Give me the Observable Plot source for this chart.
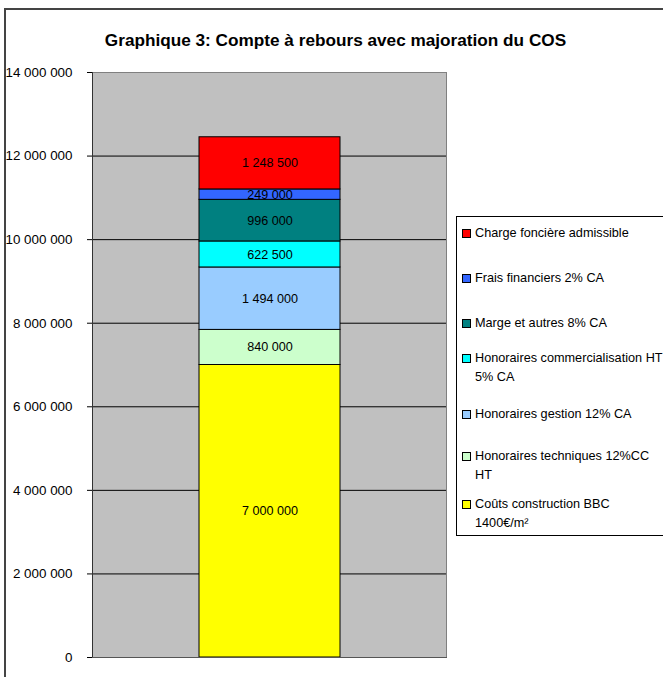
<!DOCTYPE html>
<html><head><meta charset="utf-8">
<script src="https://cdn.jsdelivr.net/npm/d3@7"></script>
<script src="https://cdn.jsdelivr.net/npm/@observablehq/plot@0.6"></script>
<style>
body{margin:0;background:#fff;font-family:"Liberation Sans",Arial,sans-serif;}
#wrap{position:relative;width:663px;height:677px;overflow:hidden;background:#fff;}
#border{position:absolute;left:4px;top:8px;width:720px;height:720px;border:2px solid #444;box-sizing:border-box;}
#title{position:absolute;left:85px;width:501px;top:29px;text-align:center;font-weight:bold;font-size:17.2px;line-height:22px;color:#000;white-space:nowrap;}
#chart{position:absolute;left:0;top:0;}
#legend{position:absolute;left:456px;top:216px;width:240px;height:320px;border:1px solid #000;box-sizing:border-box;background:#fff;}
.entry{position:absolute;left:0;font-size:12.7px;line-height:18.5px;color:#000;white-space:nowrap;}
.sw{position:absolute;left:5px;top:5px;width:7px;height:7px;border:1px solid #000;}
.lab{position:absolute;left:18px;top:0;}
</style></head>
<body>
<div id="wrap">
  <div id="border"></div>
  <div id="chart"></div>
  <div id="title">Graphique 3: Compte à rebours avec majoration du COS</div>
  <div id="legend"></div>
</div>
<script>
// ---- data (bottom to top of the stack)
const category = "Projet";
const series = [
  "Coûts construction BBC 1400€/m²",
  "Honoraires techniques 12%CC HT",
  "Honoraires gestion 12% CA",
  "Honoraires commercialisation HT 5% CA",
  "Marge et autres 8% CA",
  "Frais financiers 2% CA",
  "Charge foncière admissible"
];
const legendLines = [
  ["Coûts construction BBC", "1400€/m²"],
  ["Honoraires techniques 12%CC", "HT"],
  ["Honoraires gestion 12% CA"],
  ["Honoraires commercialisation HT", "5% CA"],
  ["Marge et autres 8% CA"],
  ["Frais financiers 2% CA"],
  ["Charge foncière admissible"]
];
const values = [7000000, 840000, 1494000, 622500, 996000, 249000, 1248500];
const colors = ["#ffff00", "#ccffcc", "#99ccff", "#00ffff", "#008080", "#3366ff", "#ff0000"];
const yTicks = [0, 2000000, 4000000, 6000000, 8000000, 10000000, 12000000, 14000000];

// ---- layout (legend first-line centres, bottom entry first)
const legendCenters = [503, 455, 413, 357, 322, 277, 232];

const data = series.map((s, i) => ({cat: category, series: s, value: values[i]}));
const fmt = v => d3.format(",")(v).replace(/,/g, " ");

const chart = Plot.plot({
  width: 663, height: 677,
  marginLeft: 92, marginRight: 217, marginTop: 72, marginBottom: 20,
  style: {fontFamily: "'Liberation Sans', Arial, sans-serif", fontSize: "12px", background: "transparent", color: "#000"},
  x: {domain: [category], padding: 0.43, axis: null},
  y: {domain: [0, 14000000], axis: null},
  color: {domain: series, range: colors},
  marks: [
    Plot.frame({fill: "#c0c0c0", stroke: "#808080"}),
    Plot.ruleY(yTicks.filter(t => t > 0 && t < 14000000), {stroke: "#000", strokeWidth: 1}),
    Plot.barY(data, {x: "cat", y: "value", fill: "series", stroke: "#000", strokeWidth: 1}),
    Plot.text(data, Plot.stackY({x: "cat", y: "value", text: d => fmt(d.value), fontSize: 12.6, fill: "#000"})),
    Plot.axisY({ticks: yTicks, tickFormat: fmt, tickSize: 5, tickPadding: 15, fontSize: 13.4, stroke: "#000", label: null}),
    Plot.frame({anchor: "left", stroke: "#333"}),
    Plot.frame({anchor: "bottom", stroke: "#555"})
  ]
});
document.getElementById("chart").appendChild(chart);

const legend = document.getElementById("legend");
series.forEach((s, i) => {
  const e = document.createElement("div");
  e.className = "entry";
  e.style.top = (legendCenters[i] - 216 - 9) + "px";
  const sw = document.createElement("div");
  sw.className = "sw";
  sw.style.background = colors[i];
  const lab = document.createElement("div");
  lab.className = "lab";
  lab.innerHTML = legendLines[i].join("<br>");
  e.appendChild(sw); e.appendChild(lab);
  legend.appendChild(e);
});
</script>
</body></html>
